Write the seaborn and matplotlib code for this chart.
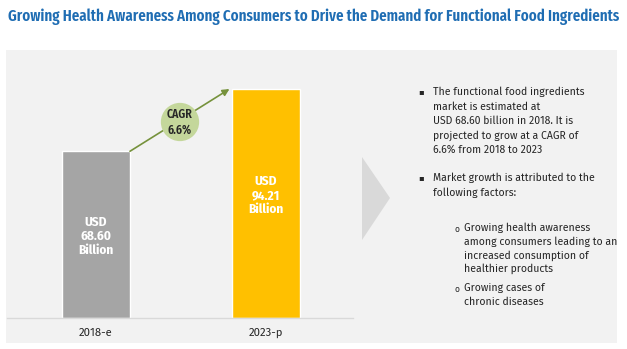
import matplotlib
matplotlib.use("Agg")
import matplotlib.pyplot as plt
import matplotlib.patches as mpatches
import seaborn as sns
import pandas as pd

# Market size data (USD billion)
years = ["2018-e", "2023-p"]
values = [68.60, 94.21]
bar_colors = ["#a5a5a5", "#ffc000"]
cagr_text = "CAGR\n6.6%"

title = "Growing Health Awareness Among Consumers to Drive the Demand for Functional Food Ingredients"
bullet_1 = ["The functional food ingredients", "market is estimated at",
            "USD 68.60 billion in 2018. It is", "projected to grow at a CAGR of",
            "6.6% from 2018 to 2023"]
bullet_2 = ["Market growth is attributed to the", "following factors:"]
sub_1 = ["Growing health awareness", "among consumers leading to an",
         "increased consumption of", "healthier products"]
sub_2 = ["Growing cases of", "chronic diseases"]

sns.set_theme(style="white")
BODY = ["Fira Sans", "DejaVu Sans"]
COND = ["Fira Sans Condensed", "DejaVu Sans"]
XCOND = ["Fira Sans Extra Condensed", "Fira Sans Condensed", "DejaVu Sans"]
plt.rcParams["font.family"] = BODY

W, H = 627, 349
fig = plt.figure(figsize=(W / 100, H / 100), dpi=100)
renderer = fig.canvas.get_renderer()


def fit_width(text_obj, target_px):
    """Scale a text's font size so that its rendered width is target_px."""
    w = text_obj.get_window_extent(renderer).width
    text_obj.set_fontsize(text_obj.get_fontsize() * target_px / w)
    return text_obj.get_fontsize()


# Full-figure pixel-space axes for the panel, chevron and side text
bg = fig.add_axes([0, 0, 1, 1], zorder=0)
bg.set_xlim(0, W)
bg.set_ylim(H, 0)
bg.axis("off")
bg.add_patch(mpatches.Rectangle((6, 50), 611, 293, color="#f2f2f2", lw=0))
bg.add_patch(mpatches.Polygon([(362, 157), (390, 198), (362, 240)],
                              closed=True, color="#d9d9d9", lw=0))

t = bg.text(8, 17, title, color="#1f6db3", fontsize=12, fontweight="semibold",
            ha="left", va="center", family=XCOND)
fit_width(t, 611)

txt_color = "#262626"
line_h = 14.5
probe = bg.text(433, 92, bullet_1[0], fontsize=8, color=txt_color,
                ha="left", va="center")
fs = fit_width(probe, 150)
probe.remove()

y = 92
bg.text(421, y, "▪", fontsize=6, color=txt_color, ha="center", va="center",
        family=["DejaVu Sans"])
for ln in bullet_1:
    bg.text(433, y, ln, fontsize=fs, color=txt_color, ha="left", va="center")
    y += line_h
y = 178
bg.text(421, y, "▪", fontsize=6, color=txt_color, ha="center", va="center",
        family=["DejaVu Sans"])
for ln in bullet_2:
    bg.text(433, y, ln, fontsize=fs, color=txt_color, ha="left", va="center")
    y += line_h

for start, lines in ((228, sub_1), (288, sub_2)):
    bg.text(457, start + 1, "o", fontsize=fs * 0.8, color=txt_color,
            ha="center", va="center")
    yy = start
    for ln in lines:
        bg.text(464, yy, ln, fontsize=fs, color=txt_color, ha="left", va="center")
        yy += 13.7

# Bar chart axes: baseline at y=318 px, top at y=50 px
x0_px, x1_px = 7, 353
top_px, base_px = 50, 318
ax = fig.add_axes([x0_px / W, (H - base_px) / H, (x1_px - x0_px) / W,
                   (base_px - top_px) / H], zorder=1)
ax.patch.set_alpha(0)

df = pd.DataFrame({"year": years, "value": values})
sns.barplot(data=df, x="year", y="value", hue="year", palette=bar_colors,
            width=0.4, legend=False, ax=ax, saturation=1)

spacing = 170.0
ax.set_xlim((x0_px - 96) / spacing, (x1_px - 96) / spacing)
px_per_unit = (base_px - 89) / values[1]
ax.set_ylim(0, (base_px - top_px) / px_per_unit)

for s in ("top", "right", "left"):
    ax.spines[s].set_visible(False)
ax.spines["bottom"].set_color("#d9d9d9")
ax.spines["bottom"].set_linewidth(1)
ax.set_yticks([])
ax.set_xlabel("")
ax.set_ylabel("")
ax.tick_params(axis="x", length=0, pad=7, labelcolor="#262626")
for lbl in ax.get_xticklabels():
    lbl.set_family(BODY)
    lbl.set_fontsize(fs * 1.08)

# Value labels inside bars
label_y = [values[0] * 0.49, values[1] * 0.535]
for i, v in enumerate(values):
    ax.text(i, label_y[i], f"USD\n{v:.2f}\nBillion", ha="center", va="center",
            color="white", fontsize=9.5, fontweight="bold", linespacing=1.2,
            family=COND)

# Growth arrow between bar tops and CAGR bubble
ax.annotate("", xy=(0.785, values[1]), xytext=(0.2, values[0]),
            arrowprops=dict(arrowstyle="-|>", color="#76923c", lw=1.2,
                            mutation_scale=10, shrinkA=0, shrinkB=0))
cx = (180 - 96) / spacing
cy = (base_px - 122) / px_per_unit
ax.scatter([cx], [cy], s=760, color="#c4d79b", edgecolor="none", zorder=3)
ax.text(cx, cy, cagr_text, ha="center", va="center", fontsize=8.5,
        fontweight="semibold", color="#262626", linespacing=1.3, zorder=4,
        family=COND)

fig.savefig("out.png", dpi=100)
